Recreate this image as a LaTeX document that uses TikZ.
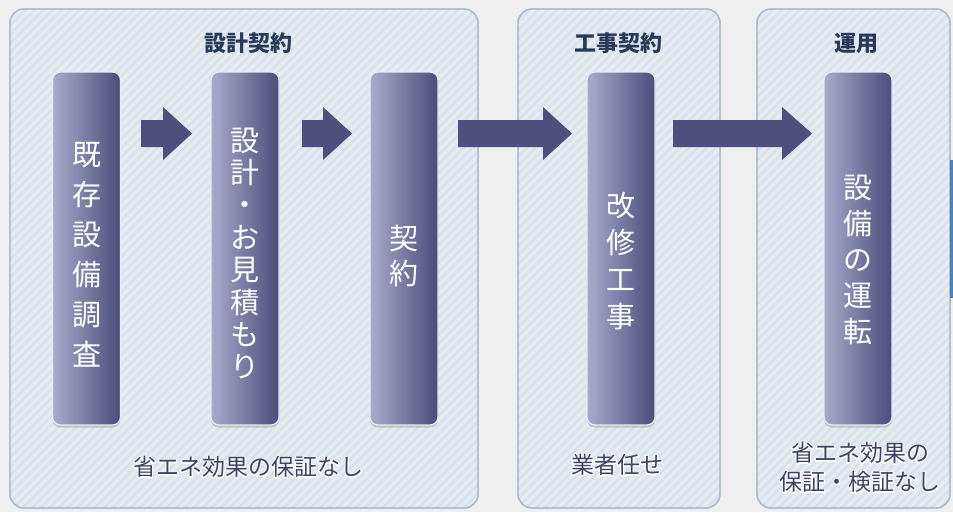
\documentclass[tikz,border=0pt]{standalone}
\usepackage{fontspec}
\newfontfamily\jp{Noto Sans CJK JP}
\newfontfamily\jpglow{Noto Sans CJK JP}[FakeBold=9]
\usetikzlibrary{calc,shadows}
\definecolor{bg}{HTML}{EFEFEF}
\definecolor{boxfill}{HTML}{DAE2EB}
\definecolor{boxline}{HTML}{A9BBCE}
\definecolor{navy}{HTML}{273A58}
\definecolor{pl}{HTML}{A9AACA}
\definecolor{pr}{HTML}{4B4C7C}
\definecolor{arr}{HTML}{4F4F7E}
\definecolor{note}{HTML}{414165}
\definecolor{bluebar}{HTML}{4A7FC1}
\newcommand\blockarrow[3]{% x start, x head start, x tip
  \fill[arr] (#1,120) -- (#2,120) -- (#2,107) -- (#3,133.5) -- (#2,160) -- (#2,147) -- (#1,147) -- cycle;}
\begin{document}
\begin{tikzpicture}[x=1pt,y=-1pt,
  stage/.style={draw=boxline, line width=1.4pt, fill=boxfill, rounded corners=14pt},
  pillar/.style={rectangle, rounded corners=8pt, minimum width=68pt, minimum height=353pt,
     left color=pl, right color=pr, draw=white!75!pl, line width=1.2pt,
     drop shadow={shadow xshift=0pt, shadow yshift=-2.5pt, opacity=0.35}},
  title/.style={font=\jp\bfseries\fontsize{22}{26}\selectfont, text=navy, inner sep=0pt},
  vtext/.style={text=white, align=center, inner sep=0pt},
  notetext/.style={font=\jp\fontsize{23}{29}\selectfont, text=note, align=center, inner sep=0pt},
  noteglow/.style={font=\jpglow\fontsize{23}{29}\selectfont, text=white, align=center, inner sep=0pt}]
\fill[bg] (0,0) rectangle (953,512);
\useasboundingbox (0,0) rectangle (953,512);
% stage boxes
\draw[stage] (10,9) rectangle (478,508);
\draw[stage] (518,9) rectangle (720,508);
\draw[stage] (757,9) rectangle (950,508);
\begin{scope}
  \clip[rounded corners=14pt] (10,9) rectangle (478,508) (518,9) rectangle (720,508) (757,9) rectangle (950,508);
  \foreach \k in {-520,-511,...,960}
    \draw[white, opacity=0.32, line width=3.5pt] (\k,515) -- ++(520,-520);
\end{scope}
\draw[boxline, line width=1.4pt, rounded corners=14pt] (10,9) rectangle (478,508);
\draw[boxline, line width=1.4pt, rounded corners=14pt] (518,9) rectangle (720,508);
\draw[boxline, line width=1.4pt, rounded corners=14pt] (757,9) rectangle (950,508);
% titles
\node[title] (h1) at (248,43) {設計契約};
\node[title] (h2) at (618,43) {工事契約};
\node[title] (h3) at (856,43) {運用};
% pillars
\node[pillar] (p1) at (86.5,248.5) {};
\node[pillar] (p2) at (245,248.5) {};
\node[pillar] (p3) at (404,248.5) {};
\node[pillar] (p4) at (621,248.5) {};
\node[pillar] (p5) at (858,248.5) {};
\node[vtext, font=\jp\fontsize{29}{40}\selectfont] (t1) at (86.5,255) {既\\存\\設\\備\\調\\査};
\node[vtext, font=\jp\fontsize{29}{32.4}\selectfont] (t2) at (245,253.5) {設\\計\\・\\お\\見\\積\\も\\り};
\node[vtext, font=\jp\fontsize{29}{35}\selectfont] (t3) at (404,256) {契\\約};
\node[vtext, font=\jp\fontsize{29}{37}\selectfont] (t4) at (621,261) {改\\修\\工\\事};
\node[vtext, font=\jp\fontsize{29}{36}\selectfont] (t5) at (858,260) {設\\備\\の\\運\\転};
% arrows
\blockarrow{141}{163}{192}
\blockarrow{302}{323}{352}
\blockarrow{458}{543}{572}
\blockarrow{673}{782}{812}
% notes (white halo underneath)
\node[noteglow] (g1) at (248,467) {省エネ効果の保証なし};
\node[noteglow] (g2) at (617,465) {業者任せ};
\node[noteglow] (g3) at (860,467.5) {省エネ効果の\\保証・検証なし};
\node[notetext] (n1) at (g1) {省エネ効果の保証なし};
\node[notetext] (n2) at (g2) {業者任せ};
\node[notetext] (n3) at (g3) {省エネ効果の\\保証・検証なし};
% blue bar at right edge
\fill[bluebar] (950,160) rectangle (953,298);
\end{tikzpicture}
\end{document}
